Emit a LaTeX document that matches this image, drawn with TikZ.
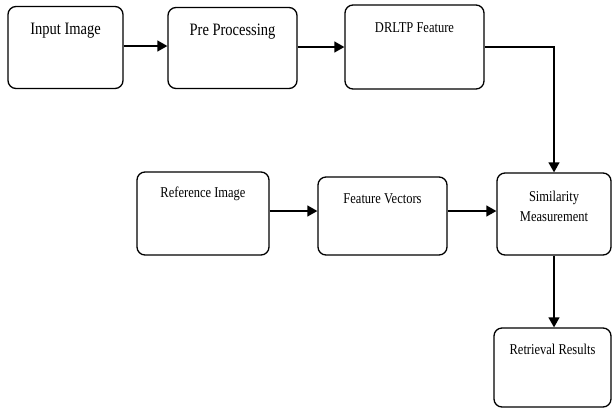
\documentclass[tikz,border=0pt]{standalone}
\usepackage{graphicx}
\usepackage{fontspec}
\setmainfont{Liberation Serif}
\usetikzlibrary{arrows.meta,calc}
\newcommand{\vstr}[1]{\scalebox{1}[1.2]{#1}}
\tikzset{
	blk/.style={draw, line width=1.3pt, rounded corners=8pt},
	lbl/.style={font=\fontsize{12.5}{20}\selectfont, align=center},
	biglbl/.style={font=\fontsize{14.5}{18}\selectfont},
	flow/.style={line width=1.3pt, -{Triangle[length=10pt,width=11pt]}}
}

\begin{document}
\begin{tikzpicture}[x=1pt, y=-1pt]
\useasboundingbox (0,0) rectangle (613,408);
% Top row
\node[blk, minimum width=115pt, minimum height=82pt] (inp) at (65.5,47.5) {};
\node[blk, minimum width=129pt, minimum height=81pt] (pre) at (232.5,48) {};
\node[blk, minimum width=139pt, minimum height=84pt] (drltp) at (414.5,47) {};
% Second row
\node[blk, minimum width=132pt, minimum height=83pt] (ref) at (203,213.5) {};
\node[blk, minimum width=129pt, minimum height=78pt] (fv) at (382.5,216) {};
\node[blk, minimum width=114pt, minimum height=82pt] (sim) at (554,214) {};
% Output
\node[blk, minimum width=117pt, minimum height=79pt] (ret) at (552.5,367.5) {};
% Labels
\node[biglbl] (inp-t) at ([yshift=-25pt]inp.north) {\vstr{Input Image}};
\node[biglbl] (pre-t) at ([yshift=-25pt]pre.north) {\vstr{Pre Processing}};
\node[lbl] (drltp-t) at ([yshift=-23pt]drltp.north) {\vstr{DRLTP Feature}};
\node[lbl] (ref-t) at ([yshift=-22pt]ref.north) {\vstr{Reference Image}};
\node[lbl] (fv-t) at ([yshift=-22pt]fv.north) {\vstr{Feature Vectors}};
\node[lbl] (sim-t) at ([yshift=-34pt]sim.north) {\vstr{Similarity}\\\vstr{Measurement}};
\node[lbl] (ret-t) at ([yshift=-22pt]ret.north) {\vstr{Retrieval Results}};
% Connectors
\draw[flow] ([yshift=1.5pt]inp.east) -- ([yshift=1.5pt]inp.east -| pre.west);
\draw[flow] ([yshift=1pt]pre.east) -- ([yshift=1pt]pre.east -| drltp.west);
\draw[flow] (drltp.east) -| (sim.north);
\draw[flow] ([yshift=2.5pt]ref.east) -- ([yshift=2.5pt]ref.east -| fv.west);
\draw[flow] ([yshift=5pt]fv.east) -- ([yshift=5pt]fv.east -| sim.west);
\draw[flow] (sim.south) -- (sim.south |- ret.north);
\end{tikzpicture}
\end{document}
